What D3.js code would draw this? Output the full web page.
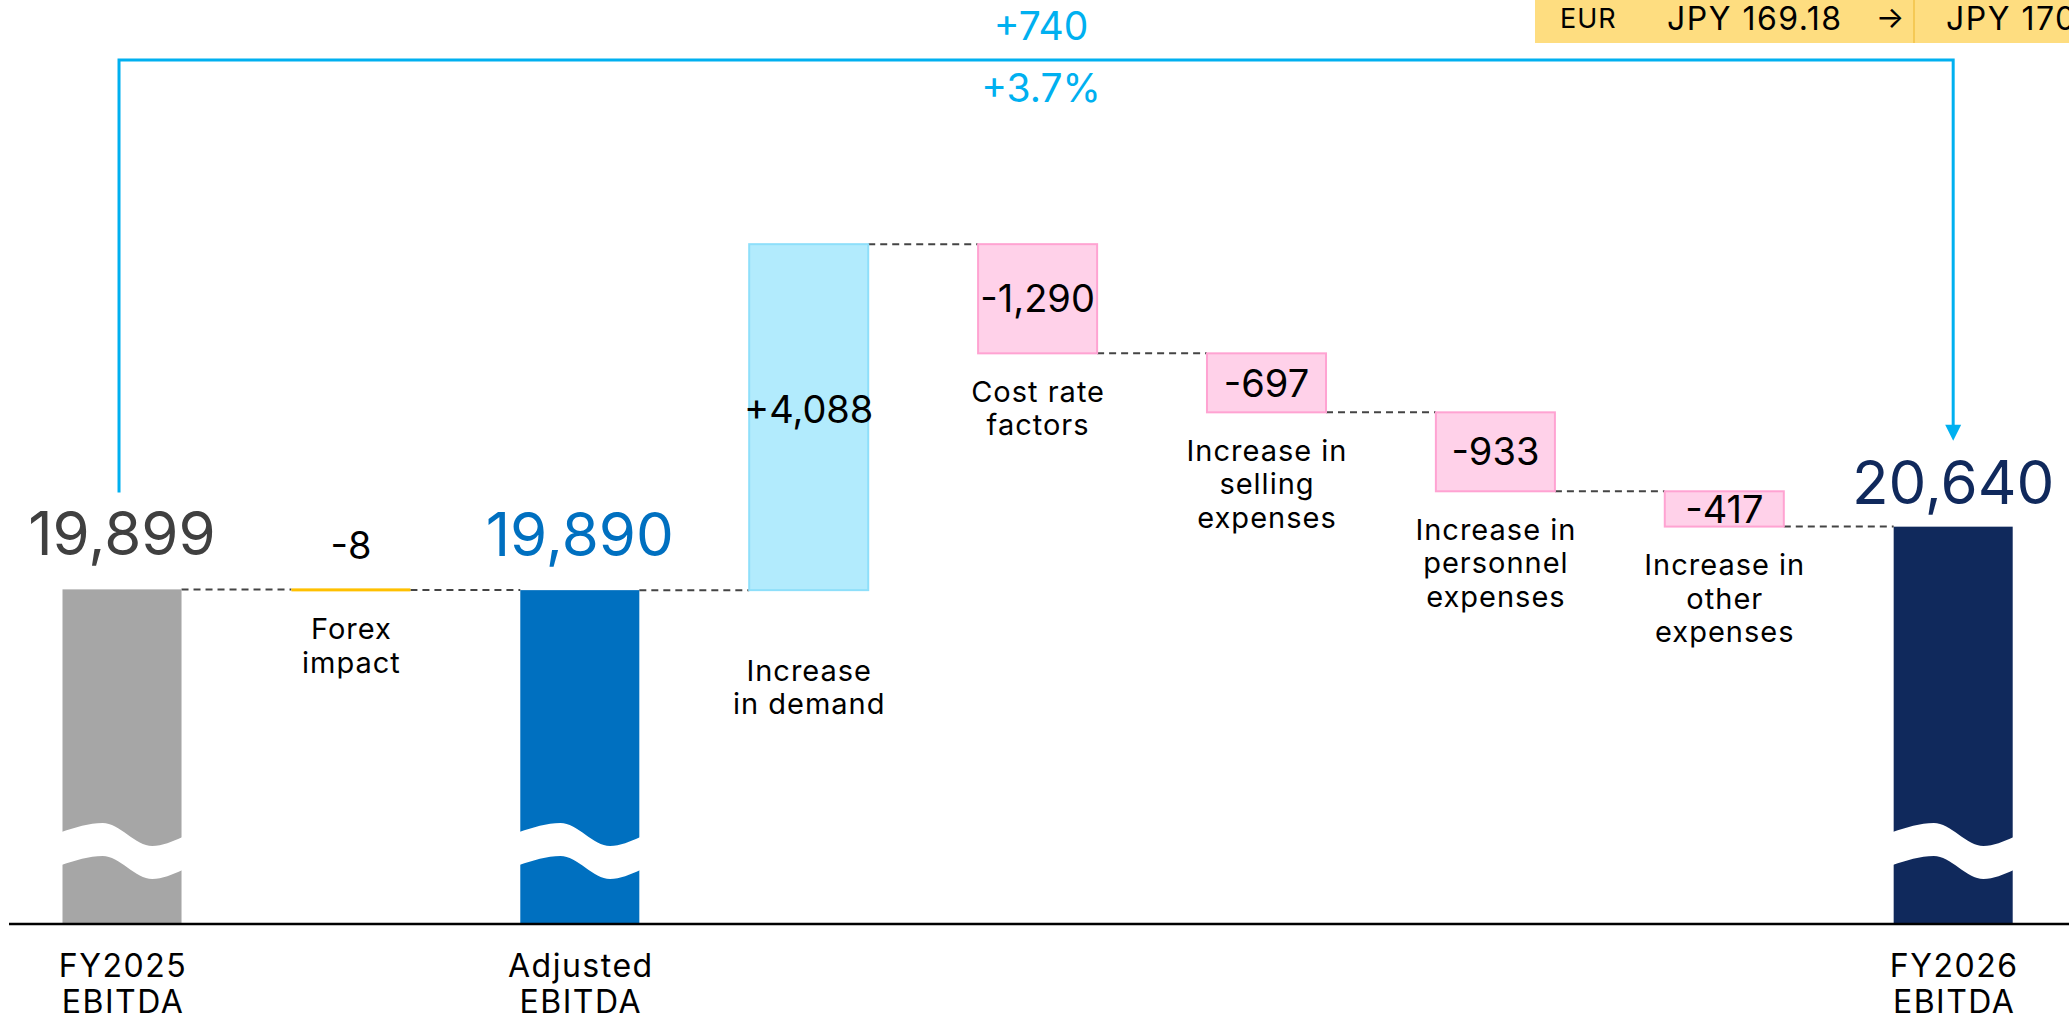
<!DOCTYPE html>
<html>
<head>
<meta charset="utf-8">
<script src="https://cdn.jsdelivr.net/npm/d3@7"></script>
<style>
  html, body { margin: 0; padding: 0; background: #fff; overflow: hidden; }
  svg { display: block; font-family: Inter, "Noto Sans", sans-serif; }
</style>
</head>
<body>
<svg id="chart" width="2069" height="1021"></svg>
<script>
// ---------- data ----------
const categories = ["FY2025 EBITDA", "Forex impact", "Adjusted EBITDA", "Increase in demand",
  "Cost rate factors", "Increase in selling expenses", "Increase in personnel expenses",
  "Increase in other expenses", "FY2026 EBITDA"];
const categoryLines = [["FY2025", "EBITDA"], ["Forex", "impact"], ["Adjusted", "EBITDA"],
  ["Increase", "in demand"], ["Cost rate", "factors"], ["Increase in", "selling", "expenses"],
  ["Increase in", "personnel", "expenses"], ["Increase in", "other", "expenses"], ["FY2026", "EBITDA"]];
const kinds = ["total", "forex", "total", "up", "down", "down", "down", "down", "total"];
const values = [19899, -8, 19890, 4088, -1290, -697, -933, -417, 20640];
const valueLabels = ["19,899", "-8", "19,890", "+4,088", "-1,290", "-697", "-933", "-417", "20,640"];
const changeLabels = ["+740", "+3.7%"];
const fxLabels = ["EUR", "JPY 169.18", "→", "JPY 170"];
const axisBreakValue = 15945;   // value at the (broken) baseline
const axisTopValue = 24500;

// ---------- layout ----------
const svg = d3.select("#chart");
const W = 2069, H = 1021;
const baseY = 924;

const x = d3.scaleBand().domain(categories).range([62.5, 2012.7]).paddingInner(0.48).paddingOuter(0);
const y = d3.scaleLinear().domain([axisBreakValue, axisTopValue]).range([baseY, 200]);

// compute bar extents
let running = 0;
const bars = categories.map((c, i) => {
  let lo, hi;
  if (kinds[i] === "total") { lo = axisBreakValue; hi = values[i]; running = values[i]; }
  else { const s = running, e = running + values[i]; lo = Math.min(s, e); hi = Math.max(s, e); running = e; }
  return { c, i, kind: kinds[i], lo, hi, end: running, v: values[i] };
});

const colors = {
  totalFill: ["#a6a6a6", null, "#0070c0", null, null, null, null, null, "#10295c"],
  totalText: ["#404040", null, "#0070c0", null, null, null, null, null, "#10295c"],
  up: "#b2ebfd", upStroke: "#8edffa",
  down: "#ffd1e9", downStroke: "#ffa3d2",
  forex: "#ffc000",
  bracket: "#00b0f0"
};

// connectors (dashed)
const gConn = svg.append("g");
for (let i = 0; i < bars.length - 1; i++) {
  const lvl = bars[i].end;
  gConn.append("line")
    .attr("x1", x(categories[i]) + x.bandwidth())
    .attr("x2", x(categories[i + 1]))
    .attr("y1", y(lvl)).attr("y2", y(lvl))
    .attr("stroke", "#444").attr("stroke-width", 2)
    .attr("stroke-dasharray", "7,5");
}

// bars
const gBars = svg.append("g");
bars.forEach(b => {
  const bx = x(b.c), bw = x.bandwidth();
  if (b.kind === "total") {
    gBars.append("rect").attr("x", bx).attr("width", bw)
      .attr("y", y(b.hi)).attr("height", y(b.lo) - y(b.hi))
      .attr("fill", colors.totalFill[b.i]);
    // axis-break wave (white band)
    const pts = [[0, -92], [0.34, -101], [0.75, -78], [1, -87]];
    const gap = 33;
    const upper = pts.map(p => [bx - 1 + p[0] * (bw + 2), baseY + p[1]]);
    const lower = pts.map(p => [bx - 1 + p[0] * (bw + 2), baseY + p[1] + gap]).reverse();
    const pathUpper = d3.line().curve(d3.curveMonotoneX)(upper);
    const lowerLine = d3.line().curve(d3.curveMonotoneX)(lower);
    gBars.append("path")
      .attr("d", pathUpper + "L" + lowerLine.slice(1) + "Z")
      .attr("fill", "#fff");
  } else if (b.kind === "forex") {
    gBars.append("rect").attr("x", bx).attr("width", bw)
      .attr("y", y(b.hi) - 1).attr("height", Math.max(3, y(b.lo) - y(b.hi)))
      .attr("fill", colors.forex);
  } else {
    const up = b.kind === "up";
    gBars.append("rect").attr("x", bx).attr("width", bw)
      .attr("y", y(b.hi)).attr("height", y(b.lo) - y(b.hi))
      .attr("fill", up ? colors.up : colors.down)
      .attr("stroke", up ? colors.upStroke : colors.downStroke)
      .attr("stroke-width", 2);
  }
});

// baseline
svg.append("line").attr("x1", 9).attr("x2", W).attr("y1", baseY).attr("y2", baseY)
  .attr("stroke", "#000").attr("stroke-width", 2.5);

// value labels
const gVal = svg.append("g").attr("text-anchor", "middle");
const totalOffset = [34, 0, 34, 0, 0, 0, 0, 0, 23];
bars.forEach(b => {
  const cx = x(b.c) + x.bandwidth() / 2;
  if (b.kind === "total") {
    gVal.append("text").attr("x", cx).attr("y", y(b.hi) - totalOffset[b.i])
      .attr("font-size", 60).attr("fill", colors.totalText[b.i]).text(valueLabels[b.i]);
  } else if (b.kind === "forex") {
    gVal.append("text").attr("x", cx).attr("y", y(b.hi) - 30)
      .attr("font-size", 38).attr("fill", "#000").text(valueLabels[b.i]);
  } else {
    const shift = b.kind === "up" ? -8 : 0;
    gVal.append("text").attr("x", cx).attr("y", (y(b.hi) + y(b.lo)) / 2 + shift)
      .attr("dy", "0.36em")
      .attr("font-size", 38).attr("fill", "#000").text(valueLabels[b.i]);
  }
});

// category labels
const gCat = svg.append("g").attr("text-anchor", "middle").attr("fill", "#000");
bars.forEach(b => {
  const cx = x(b.c) + x.bandwidth() / 2;
  const lines = categoryLines[b.i];
  if (b.kind === "total") {
    lines.forEach((t, k) => {
      gCat.append("text").attr("x", cx + 1).attr("y", baseY + 41 + k * 36)
        .attr("dy", "0.36em").attr("font-size", 32).attr("letter-spacing", 1.5).text(t);
    });
  } else {
    const extra = b.c === "Increase in demand" ? 80 : 38;
    const top = y(b.lo) + (b.kind === "forex" ? 1 : 0);
    lines.forEach((t, k) => {
      gCat.append("text").attr("x", cx + 0.5).attr("y", top + extra + k * 33.5)
        .attr("dy", "0.36em").attr("font-size", 29).attr("letter-spacing", 1).text(t);
    });
  }
});

// change bracket
const first = bars[0], last = bars[bars.length - 1];
const lx = x(first.c) + x.bandwidth() / 2 - 3;
const rx = x(last.c) + x.bandwidth() / 2;
const topY = 60;
const lyEnd = y(first.hi) - totalOffset[0] - 63;
const ryEnd = y(last.hi) - totalOffset[8] - 63;
svg.append("path")
  .attr("d", `M${lx},${lyEnd}V${topY}H${rx}V${ryEnd - 14}`)
  .attr("fill", "none").attr("stroke", colors.bracket).attr("stroke-width", 3);
svg.append("path")
  .attr("d", `M${rx - 8},${ryEnd - 16}L${rx + 8},${ryEnd - 16}L${rx},${ryEnd}Z`)
  .attr("fill", colors.bracket);
const bx = 1041;
svg.append("text").attr("x", bx).attr("y", topY - 20).attr("text-anchor", "middle")
  .attr("font-size", 39).attr("fill", colors.bracket).text(changeLabels[0]);
svg.append("text").attr("x", bx).attr("y", topY + 42).attr("text-anchor", "middle")
  .attr("font-size", 39).attr("fill", colors.bracket).text(changeLabels[1]);

// FX box (top right)
const gFx = svg.append("g");
gFx.append("rect").attr("x", 1535).attr("y", 0).attr("width", W - 1535).attr("height", 43).attr("fill", "#fedd80");
gFx.append("line").attr("x1", 1914).attr("x2", 1914).attr("y1", 0).attr("y2", 43).attr("stroke", "#f2c247").attr("stroke-width", 1.5);
gFx.append("text").attr("x", 1560).attr("y", 28).attr("font-size", 27).attr("letter-spacing", 1).attr("fill", "#000").text(fxLabels[0]);
gFx.append("text").attr("x", 1667).attr("y", 30).attr("font-size", 32).attr("letter-spacing", 1.5).attr("fill", "#000").text(fxLabels[1]);
gFx.append("text").attr("x", 1890).attr("y", 28).attr("text-anchor", "middle").attr("font-size", 30).attr("fill", "#000").text(fxLabels[2]);
gFx.append("text").attr("x", 1946).attr("y", 30).attr("font-size", 32).attr("letter-spacing", 1.5).attr("fill", "#000").text(fxLabels[3]);
</script>
</body>
</html>
